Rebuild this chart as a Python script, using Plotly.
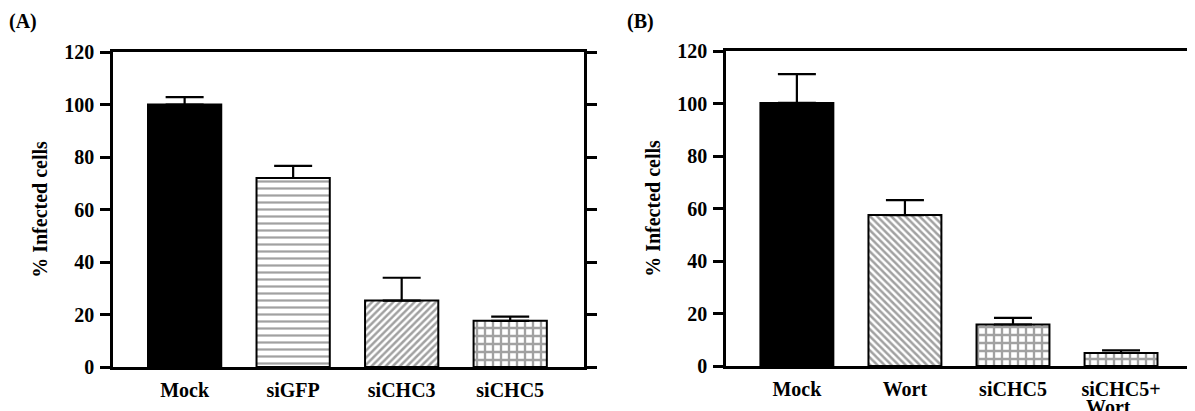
import plotly.graph_objects as go

# ---- data ----
cats_a = ["Mock", "siGFP", "siCHC3", "siCHC5"]
vals_a = [100, 72, 25.3, 17.6]
err_a = [2.8, 4.6, 8.7, 1.6]

cats_b = ["Mock", "Wort", "siCHC5", "siCHC5+Wort"]
ticks_b = ["Mock", "Wort", "siCHC5", "siCHC5+"]
vals_b = [100.2, 57.5, 15.8, 5.0]
err_b = [11.0, 5.7, 2.5, 1.0]

y_ticks = [0, 20, 40, 60, 80, 100, 120]

FONT = "Liberation Serif, Times New Roman, serif"

shapes_a = ["", "-", "/", "+"]
sizes_a = [8, 7, 5, 8]
sol_a = [0.2, 0.32, 0.5, 0.5]
colors_a = ["black", "white", "white", "white"]

shapes_b = ["", "\\", "+", "+"]
sizes_b = [8, 5, 8, 8]
sol_b = [0.2, 0.5, 0.5, 0.5]
colors_b = ["black", "white", "white", "white"]

fig = go.Figure()


def bar(cats, vals, errs, shapes, sizes, sol, colors, xa, ya):
    return go.Bar(
        x=cats, y=vals, xaxis=xa, yaxis=ya, width=0.675,
        marker=dict(
            color=colors,
            line=dict(color="black", width=2),
            pattern=dict(shape=shapes, size=sizes, solidity=sol,
                         fgcolor="black", fillmode="overlay"),
        ),
        error_y=dict(type="data", symmetric=False, array=errs,
                     arrayminus=[0] * len(errs), color="black",
                     thickness=2.2, width=19),
        showlegend=False, hoverinfo="skip",
    )


fig.add_trace(bar(cats_a, vals_a, err_a, shapes_a, sizes_a, sol_a, colors_a, "x", "y"))
fig.add_trace(bar(cats_b, vals_b, err_b, shapes_b, sizes_b, sol_b, colors_b, "x2", "y2"))

tickfont = dict(family=FONT, size=20, color="black", weight="bold")

xcommon = dict(showline=True, linewidth=2.5, linecolor="black", mirror=True,
               ticks="", showgrid=False, zeroline=False, tickfont=tickfont,
               ticklabelstandoff=3, fixedrange=True, automargin=False)
ycommon = dict(showline=True, linewidth=2.5, linecolor="black",
               ticks="outside", ticklen=10, tickwidth=2.5, tickcolor="black",
               range=[0, 120], tickvals=y_ticks, showgrid=False, zeroline=False,
               tickfont=tickfont, ticklabelstandoff=2, automargin=False,
               title=dict(text="% Infected cells",
                          font=dict(family=FONT, size=20, color="black", weight="bold"),
                          standoff=12))

# page body has an 8px margin: figure spans 8..1195 x 8..411 of the window
OFF = 8
W, H = 1195 - OFF, 411 - OFF


def px(x):
    return (x - OFF) / W


def py(y):
    return 1 - (y - OFF) / H


fig.update_layout(
    width=W, height=H, autosize=False,
    margin=dict(l=0, r=0, t=0, b=0, pad=0),
    paper_bgcolor="white", plot_bgcolor="white",
    xaxis=dict(**xcommon, domain=[px(113), px(584)], range=[-0.66, 3.68],
               anchor="y"),
    yaxis=dict(**ycommon, domain=[py(367), py(52)], mirror="ticks",
               anchor="x"),
    xaxis2=dict(**xcommon, domain=[px(726), px(1193)], range=[-0.656, 3.666],
                anchor="y2", tickvals=cats_b, ticktext=ticks_b),
    yaxis2=dict(**ycommon, domain=[py(366), py(51)], mirror=True,
                anchor="x2"),
    annotations=[
        dict(text="(A)", x=px(23), y=py(22), xref="paper", yref="paper",
             xanchor="center", yanchor="middle",
             showarrow=False, font=dict(family=FONT, size=20, color="black", weight="bold")),
        dict(text="(B)", x=px(640), y=py(22), xref="paper", yref="paper",
             xanchor="center", yanchor="middle",
             showarrow=False, font=dict(family=FONT, size=20, color="black", weight="bold")),
        dict(text="Wort", x=cats_b[3], xref="x2", y=py(407), yref="paper",
             xanchor="left", yanchor="middle", xshift=-37, showarrow=False,
             font=dict(family=FONT, size=20, color="black", weight="bold")),
    ],
)

fig.write_html("out.html", config={"displayModeBar": False})
